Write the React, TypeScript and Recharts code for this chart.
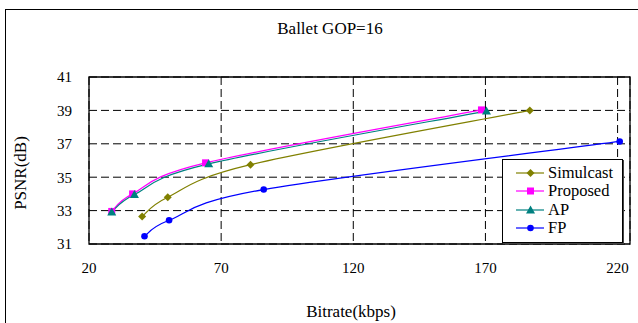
import React from "react";
import {
  LineChart,
  Line,
  XAxis,
  YAxis,
  CartesianGrid,
  ReferenceArea,
} from "recharts";

if (typeof document !== "undefined") document.body.style.margin = "0";

const FONT = "Liberation Serif, Times New Roman, Times, Nimbus Roman, DejaVu Serif, serif";

// values (bitrate kbps, PSNR dB)
const simulcastRate = [40.1, 49.8, 81.1, 186.8];
const simulcastPsnr = [32.65, 33.8, 35.75, 39.0];
const proposedRate = [28.6, 36.5, 64.1, 168.5];
const proposedPsnr = [32.95, 34.0, 35.86, 39.03];
const apRate = [28.6, 37.2, 65.3, 170.4];
const apPsnr = [32.92, 33.96, 35.8, 38.96];
const fpRate = [41.0, 50.3, 86.1, 220.8];
const fpPsnr = [31.46, 32.42, 34.26, 37.14];

const xTicks = [20, 70, 120, 170, 220];
const yTicks = [31, 33, 35, 37, 39, 41];

const toPoints = (xs: number[], ys: number[]) => xs.map((x, i) => ({ x, y: ys[i] }));

// smoothed line in the spreadsheet style (Catmull-Rom through every point)
const smoothCurve = (context: any) => {
  let pts: number[][] = [];
  return {
    areaStart() {},
    areaEnd() {},
    lineStart() {
      pts = [];
    },
    point(x: number, y: number) {
      pts.push([+x, +y]);
    },
    lineEnd() {
      const n = pts.length;
      if (!n) return;
      context.moveTo(pts[0][0], pts[0][1]);
      for (let i = 0; i < n - 1; i++) {
        const p0 = pts[Math.max(i - 1, 0)];
        const p1 = pts[i];
        const p2 = pts[i + 1];
        const p3 = pts[Math.min(i + 2, n - 1)];
        context.bezierCurveTo(
          p1[0] + (p2[0] - p0[0]) / 6,
          p1[1] + (p2[1] - p0[1]) / 6,
          p2[0] - (p3[0] - p1[0]) / 6,
          p2[1] - (p3[1] - p1[1]) / 6,
          p2[0],
          p2[1]
        );
      }
    },
  };
};

const Diamond = ({ cx, cy, color }: any) => (
  <path d={`M${cx},${cy - 4}L${cx + 4},${cy}L${cx},${cy + 4}L${cx - 4},${cy}Z`} fill={color} />
);
const Square = ({ cx, cy, color }: any) => (
  <rect x={cx - 3.5} y={cy - 3.5} width={7} height={7} fill={color} />
);
const Triangle = ({ cx, cy, color }: any) => (
  <path d={`M${cx},${cy - 4.5}L${cx + 4.5},${cy + 3.5}L${cx - 4.5},${cy + 3.5}Z`} fill={color} />
);
const Circle = ({ cx, cy, color }: any) => <circle cx={cx} cy={cy} r={3.3} fill={color} />;

const series = [
  { name: "Simulcast", color: "#808000", data: toPoints(simulcastRate, simulcastPsnr), Marker: Diamond },
  { name: "Proposed", color: "#FF00FF", data: toPoints(proposedRate, proposedPsnr), Marker: Square },
  { name: "AP", color: "#008080", data: toPoints(apRate, apPsnr), Marker: Triangle },
  { name: "FP", color: "#0000FF", data: toPoints(fpRate, fpPsnr), Marker: Circle },
];

const tickStyle = { fontSize: 15, fill: "#000", fontFamily: FONT };

export default function App() {
  return (
    <div style={{ position: "relative", width: 638, height: 323, overflow: "hidden", background: "#fff", fontFamily: FONT }}>
      <div
        style={{ position: "absolute", left: 5, top: 9, width: 700, height: 400, border: "1px solid #000" }}
      />
      <div style={{ position: "absolute", left: 0, width: 660, top: 19, textAlign: "center", fontSize: 17 }}>
        Ballet GOP=16
      </div>
      <div
        style={{
          position: "absolute",
          left: 21,
          top: 173,
          transform: "translate(-50%, -50%) rotate(-90deg)",
          fontSize: 17,
          whiteSpace: "nowrap",
        }}
      >
        PSNR(dB)
      </div>
      <div style={{ position: "absolute", left: 251, width: 200, top: 302, textAlign: "center", fontSize: 17 }}>
        Bitrate(kbps)
      </div>

      <div style={{ position: "absolute", left: 0, top: 0 }}>
        <LineChart width={638} height={323} margin={{ top: 77, right: 8, bottom: 49, left: 29 }}>
          <CartesianGrid stroke="#000" strokeDasharray="8 4" />
          <XAxis
            type="number"
            dataKey="x"
            domain={[20, 224.7]}
            ticks={xTicks}
            allowDataOverflow
            height={30}
            tick={tickStyle}
            tickSize={0}
            tickMargin={18}
            axisLine={false}
          />
          <YAxis
            type="number"
            domain={[31, 41]}
            ticks={yTicks}
            width={60}
            tick={tickStyle}
            tickSize={0}
            tickMargin={17}
            axisLine={false}
          />
          <ReferenceArea x1={20} x2={224.7} y1={31} y2={41} fill="none" stroke="#000" strokeWidth={1.3} ifOverflow="visible" />
          {series.map((s) => (
            <Line
              key={s.name}
              data={s.data}
              dataKey="y"
              name={s.name}
              type={smoothCurve as any}
              stroke={s.color}
              strokeWidth={1.2}
              isAnimationActive={false}
              dot={(p: any) => <s.Marker key={`${s.name}-${p.index}`} cx={p.cx} cy={p.cy} color={s.color} />}
              activeDot={false}
            />
          ))}
        </LineChart>
      </div>

      {/* legend box */}
      <div
        style={{
          position: "absolute",
          left: 502,
          top: 159,
          width: 119,
          height: 78,
          border: "1px solid #000",
          background: "#fff",
          boxShadow: "1px 1px 0 #444",
          paddingTop: 4,
          boxSizing: "content-box",
        }}
      >
        {series.map((s) => (
          <div key={s.name} style={{ height: 18.3, display: "flex", alignItems: "center", fontSize: 16.5 }}>
            <svg width={45} height={12} style={{ flex: "none" }}>
              <line x1={13} x2={41} y1={6} y2={6} stroke={s.color} strokeWidth={1.2} />
              <s.Marker cx={27.5} cy={6} color={s.color} />
            </svg>
            <span>{s.name}</span>
          </div>
        ))}
      </div>
    </div>
  );
}
